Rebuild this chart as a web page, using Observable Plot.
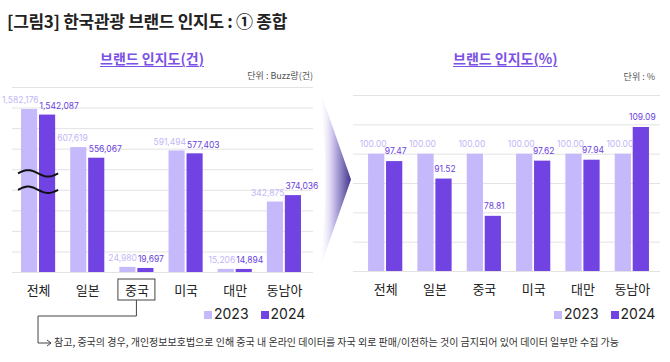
<!DOCTYPE html>
<html><head><meta charset="utf-8">
<script src="https://cdn.jsdelivr.net/npm/d3@7"></script>
<script src="https://cdn.jsdelivr.net/npm/@observablehq/plot@0.6"></script>
<style>
body{margin:0;background:#fff;}
#wrap{position:relative;width:670px;height:362px;overflow:hidden;font-family:"Noto Sans CJK KR","Noto Sans",sans-serif;background:#fff;}
.abs{position:absolute;white-space:nowrap;line-height:1;}
#wrap svg{position:absolute;left:0;top:0;}
.sq{display:inline-block;width:8px;height:8px;margin-right:2px;vertical-align:0px;}
</style></head><body><div id="wrap"></div>
<script>
// ---- data ----
const categories = ["전체", "일본", "중국", "미국", "대만", "동남아"];
const years = ["2023", "2024"];
const count2023 = [1582176, 607619, 24980, 591494, 15206, 342875];
const count2024 = [1542087, 556067, 19697, 577403, 14894, 374036];
const pct2023 = [100, 100, 100, 100, 100, 100];
const pct2024 = [97.47, 91.52, 78.81, 97.62, 97.94, 109.09];
const countTicks = [0, 100000, 200000, 300000, 400000, 500000, 600000, 700000, 800000, 900000];
const pctTicks = [60, 70, 80, 90, 100, 110, 120];

// ---- styles ----
const C23 = "#c6b9fb", C24 = "#7043e2";
const L23 = "#c3b6f7", L24 = "#6a3fe0";
const numFont = '"Liberation Sans Narrow","Inter",sans-serif';
const krFont = '"Noto Sans CJK KR","Noto Sans",sans-serif';

const rows = categories.flatMap((c, i) => [
  {cat: c, year: years[0], count: count2023[i], pct: pct2023[i]},
  {cat: c, year: years[1], count: count2024[i], pct: pct2024[i]}
]);
const r23 = rows.filter(d => d.year === years[0]);
const r24 = rows.filter(d => d.year === years[1]);

// axis break for the 전체 group (values above 1,000,000 are compressed)
const breakAt = 400000;
const brk = v => v > 1e6 ? breakAt + (v - 1e6) * 0.675 : v;
const fmtC = d3.format(",");
const fmtP = d3.format(".2f");

const wrap = document.getElementById("wrap");
function addText(txt, css) {
  const d = document.createElement("div");
  d.className = "abs"; d.textContent = txt;
  Object.assign(d.style, css); wrap.appendChild(d); return d;
}

const baseStyle = {background: "transparent", fontFamily: krFont, fontSize: "13px", color: "#222", overflow: "visible"};
const lbl = {fontSize: 8.5, fontFamily: numFont};

const left = Plot.plot({
  width: 670, height: 362,
  marginLeft: 12, marginRight: 357, marginTop: 87, marginBottom: 90,
  style: baseStyle,
  x: {domain: categories, range: [13.5, 308.5], paddingInner: 0.306, paddingOuter: 0.153, round: false, tickSize: 0, tickPadding: 13, label: null},
  y: {domain: [0, 900000], transform: brk, axis: null},
  marks: [
    Plot.ruleY(countTicks, {stroke: "#e3e3e3", strokeWidth: 1}),
    Plot.barY(r23, {x: "cat", y: "count", fill: C23, insetRight: 18}),
    Plot.barY(r24, {x: "cat", y: "count", fill: C24, insetLeft: 18}),
    Plot.text(r23, {x: "cat", y: "count", text: d => fmtC(d.count), textAnchor: "end", dx: 0, dy: -9, fill: L23, ...lbl}),
    Plot.text(r24, {x: "cat", y: "count", text: d => fmtC(d.count), textAnchor: "start", dx: 1, dy: -9, fill: L24, ...lbl})
  ]
});

const right = Plot.plot({
  width: 670, height: 362,
  marginLeft: 353, marginRight: 10, marginTop: 95, marginBottom: 91,
  style: baseStyle,
  x: {domain: categories, range: [360.5, 656.5], paddingInner: 0.306, paddingOuter: 0.153, round: false, tickSize: 0, tickPadding: 13, label: null},
  y: {domain: [pctTicks[0], pctTicks[pctTicks.length - 1]], axis: null},
  marks: [
    Plot.ruleY(pctTicks, {stroke: "#e3e3e3", strokeWidth: 1}),
    Plot.barY(r23, {x: "cat", y1: () => pctTicks[0], y2: "pct", fill: C23, insetRight: 18}),
    Plot.barY(r24, {x: "cat", y1: () => pctTicks[0], y2: "pct", fill: C24, insetLeft: 18}),
    Plot.text(r23, {x: "cat", y: "pct", text: d => fmtP(d.pct), textAnchor: "end", dx: 1, dy: -10, fill: L23, ...lbl}),
    Plot.text(r24, {x: "cat", y: "pct", text: d => fmtP(d.pct), textAnchor: "middle", dx: 10, dy: -10, fill: L24, ...lbl})
  ]
});

// chevron arrow between the panels (decoration, drawn behind)
const deco = d3.create("svg").attr("width", 670).attr("height", 362);
const grad = deco.append("defs").append("linearGradient").attr("id", "chev").attr("x1", "0").attr("x2", "1").attr("y1", "0").attr("y2", "0");
grad.append("stop").attr("offset", "0").attr("stop-color", "#ffffff").attr("stop-opacity", 0);
grad.append("stop").attr("offset", "0.45").attr("stop-color", "#c9bfea");
grad.append("stop").attr("offset", "1").attr("stop-color", "#43358f");
const ys2 = right.scale("y");
const chevTop = ys2.apply(pctTicks[pctTicks.length - 1]) - 7;
const chevBot = ys2.apply(pctTicks[0]);
deco.append("path")
  .attr("d", `M319,${chevTop} L351,${(chevTop + chevBot) / 2} L319,${chevBot} Q332,${(chevTop + chevBot) / 2} 319,${chevTop} Z`)
  .attr("fill", "url(#chev)");
wrap.appendChild(deco.node());
wrap.appendChild(left);
wrap.appendChild(right);

// axis-break squiggles on the 전체 bars
const xs = left.scale("x"), ys = left.scale("y");
const x0 = xs.apply(categories[0]) - 3, x1 = xs.apply(categories[0]) + xs.bandwidth + 3;
const sq = d3.select(left).append("g").attr("fill", "none").attr("stroke", "#111").attr("stroke-width", 2);
[breakAt, breakAt + 80000].forEach(v => {
  const yy = ys.apply(v);
  const pts = d3.range(0, 41).map(k => [x0 + (x1 - x0) * k / 40, yy - 3.2 * Math.sin(2 * Math.PI * k / 40)]);
  sq.append("path").attr("d", d3.line()(pts));
});

// box around 중국 and connector to the footnote
const cx = xs.apply("중국") + xs.bandwidth / 2;
const base = ys.apply(0);
const ann = d3.select(left).append("g").attr("fill", "none").attr("stroke", "#444").attr("stroke-width", 1);
ann.append("rect").attr("x", cx - 18.5).attr("y", base + 7).attr("width", 37).attr("height", 21);
ann.append("path").attr("d", `M${cx},${base + 28} V${base + 44} H${x0 + 20} V${base + 71} H${x0 + 33}`);
ann.append("path").attr("d", `M${x0 + 29},${base + 68} L${x0 + 33},${base + 71} L${x0 + 29},${base + 74}`);

// ---- texts ----
addText("[그림3] 한국관광 브랜드 인지도 : ① 종합", {left: "7px", top: "12px", fontSize: "17px", fontWeight: "700", color: "#222", letterSpacing: "-0.3px"});
const subCss = {fontSize: "14px", fontWeight: "700", color: "#7b52e6", textDecoration: "underline", textUnderlineOffset: "2px", textDecorationThickness: "1px"};
addText("브랜드 인지도(건)", Object.assign({left: "100px", top: "51px"}, subCss));
addText("브랜드 인지도(%)", Object.assign({left: "453px", top: "51px"}, subCss));
addText("단위 : Buzz량(건)", {right: "357px", top: "71px", fontSize: "9px", color: "#555"});
addText("단위 : %", {right: "15px", top: "72px", fontSize: "9px", color: "#555"});

function legend(leftPx) {
  const d = document.createElement("div");
  d.className = "abs";
  Object.assign(d.style, {left: leftPx + "px", top: "307px", fontSize: "14px", color: "#222", fontFamily: '"Inter","Noto Sans",sans-serif'});
  d.innerHTML = `<span class="sq" style="background:${C23}"></span>${years[0]}<span style="display:inline-block;width:12px"></span><span class="sq" style="background:${C24}"></span>${years[1]}`;
  wrap.appendChild(d);
}
legend(204);
legend(554);

addText("참고, 중국의 경우, 개인정보보호법으로 인해 중국 내 온라인 데이터를 자국 외로 판매/이전하는 것이 금지되어 있어 데이터 일부만 수집 가능", {left: "54px", top: "337px", fontSize: "10px", color: "#333"});
</script></body></html>
